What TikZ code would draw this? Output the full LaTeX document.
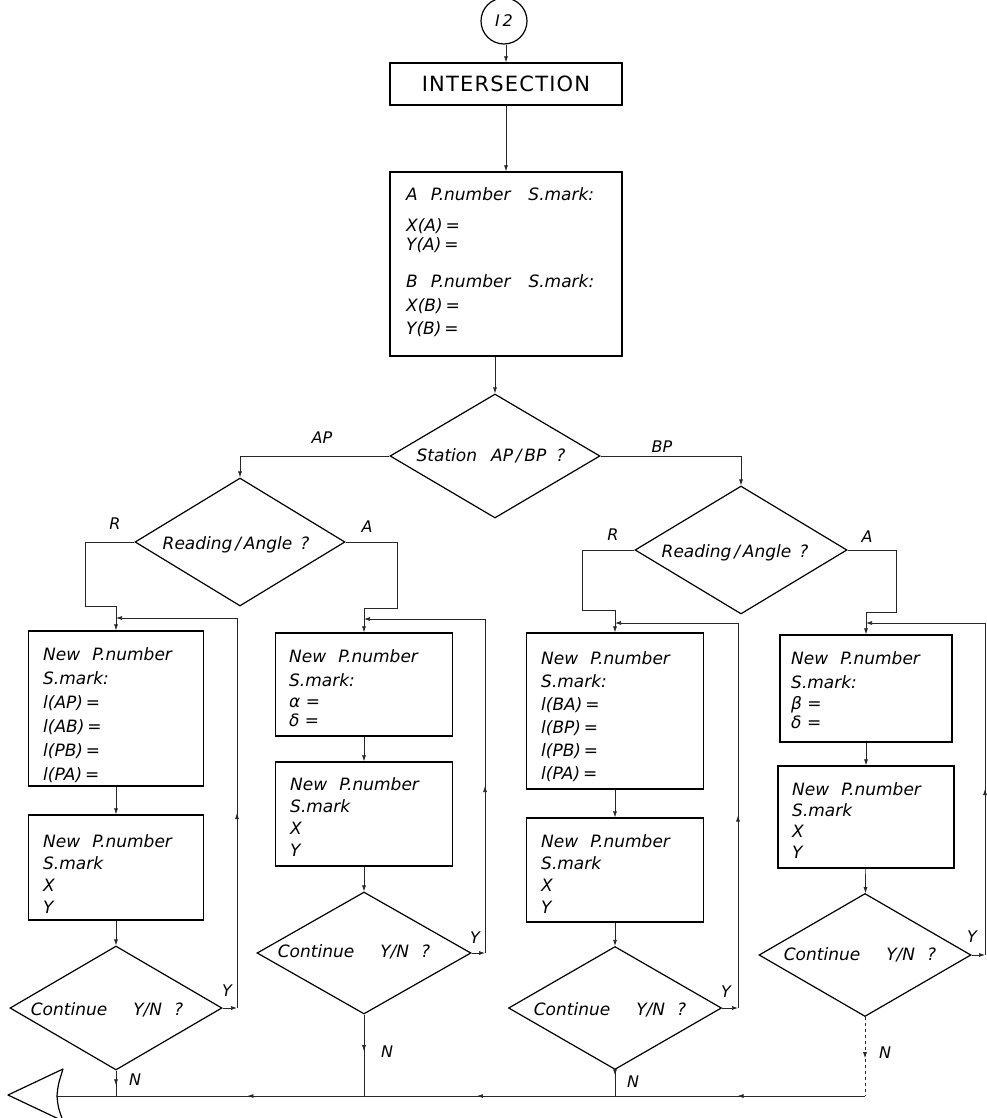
\documentclass[tikz,border=0pt]{standalone}
\usepackage{fontspec}
\setmainfont{DejaVu Sans}
\newfontfamily\lett[ItalicFont={DejaVu Sans Oblique}]{DejaVu Sans}
\usetikzlibrary{shapes.geometric,arrows.meta,decorations.markings}

\tikzset{
  box/.style={draw, line width=1.3pt, inner sep=0pt},
  dia/.style={draw, diamond, line width=1.2pt, inner sep=0pt},
  term/.style={draw, circle, line width=1.2pt, inner sep=0pt, minimum size=46pt,
    font=\lett\itshape\fontsize{16}{18}\selectfont},
  txt/.style={inner sep=0pt, align=left, anchor=north west,
    font=\lett\itshape\fontsize{17}{24}\selectfont},
  dtxt/.style={inner sep=0pt, font=\lett\itshape\fontsize{17}{20}\selectfont},
  lbl/.style={inner sep=0pt, font=\lett\itshape\fontsize{16}{18}\selectfont},
  link/.style={line width=0.7pt, draw=black!85},
  tip/.style={-{Latex[length=6pt,width=4pt]}},
  markat/.style={postaction={decorate, decoration={markings,
    mark=at position #1 with {\arrow{Latex[length=6pt,width=4pt]}}}}},
}

\begin{document}
\begin{tikzpicture}[x=1pt,y=-1pt]
\fill[white] (0,0) rectangle (986,1118);
\useasboundingbox (0,0) rectangle (986,1118);

% head of the chart
\node[term] (start) at (504,21) {I\,2};
\node[box, minimum width=232, minimum height=42] (title) at (506,84)
  {\lett\fontsize{21}{26}\selectfont I\kern1.2pt N\kern1.2pt T\kern1.2pt E\kern1.2pt R\kern1.2pt S\kern1.2pt E\kern1.2pt C\kern1.2pt T\kern1.2pt I\kern1.2pt O\kern1.2pt N};
\node[box, minimum width=232, minimum height=184] (input) at (506,264) {};
\node[txt, font=\lett\itshape\fontsize{17}{20}\selectfont] (inputT) at (406,187)
  {A\hspace{13pt}P.number\hspace{18pt}S.mark:\\[11pt]
   X(A)\,=\\[-1pt] Y(A)\,=\\[17pt]
   B\hspace{13pt}P.number\hspace{18pt}S.mark:\\[4pt]
   X(B)\,=\\[3pt] Y(B)\,=};

% decisions
\node[dia, minimum width=210, minimum height=124] (st) at (495,456) {};
\node[dtxt] (stT) at (491,456) {Station\hspace{14pt}AP\,/\,BP\hspace{10pt}?};
\node[dia, minimum width=210, minimum height=128] (ra) at (240,542) {};
\node[dtxt] (raT) at (236,545) {Reading\,/\,Angle\hspace{8pt}?};
\node[dia, minimum width=212, minimum height=128] (rb) at (741,550) {};
\node[dtxt] (rbT) at (735,553) {Reading\,/\,Angle\hspace{8pt}?};

% column 1: station A, readings
\node[box, minimum width=175, minimum height=155] (b1a) at (116,708.5) {};
\node[txt] (b1aT) at (43,647)
  {New\hspace{12pt}P.number\\ S.mark:\\ l(AP)\,=\\ l(AB)\,=\\ l(PB)\,=\\ l(PA)\,=};
\node[box, minimum width=175, minimum height=105] (b1b) at (116,867.5) {};
\node[txt] (b1bT) at (43,834)
  {New\hspace{12pt}P.number\\[-2pt] S.mark\\[-2pt] X\\[-2pt] Y};
\node[dia, minimum width=212, minimum height=124] (c1) at (116,1008) {};
\node[dtxt] (c1T) at (107,1010) {Continue\hspace{26pt}Y/N\hspace{12pt}?};

% column 2: station A, angles
\node[box, minimum width=177, minimum height=103] (b2a) at (364,684.5) {};
\node[txt] (b2aT) at (289,649)
  {New\hspace{12pt}P.number\\ S.mark:\\[-3pt] α =\\[-5pt] δ =};
\node[box, minimum width=177, minimum height=104] (b2b) at (364,814) {};
\node[txt] (b2bT) at (290,777)
  {New\hspace{12pt}P.number\\[-2pt] S.mark\\[-2pt] X\\[-2pt] Y};
\node[dia, minimum width=214, minimum height=122] (c2) at (364,953) {};
\node[dtxt] (c2T) at (354,952) {Continue\hspace{26pt}Y/N\hspace{12pt}?};

% column 3: station B, readings
\node[box, minimum width=177, minimum height=156] (b3a) at (615,711) {};
\node[txt] (b3aT) at (541,651)
  {New\hspace{12pt}P.number\\[-1pt] S.mark:\\[-1pt] l(BA)\,=\\[-1pt] l(BP)\,=\\[-1pt] l(PB)\,=\\[-1pt] l(PA)\,=};
\node[box, minimum width=177, minimum height=104] (b3b) at (615,870) {};
\node[txt] (b3bT) at (541,834)
  {New\hspace{12pt}P.number\\[-2pt] S.mark\\[-2pt] X\\[-2pt] Y};
\node[dia, minimum width=213, minimum height=123] (c3) at (615,1008) {};
\node[dtxt] (c3T) at (610,1010) {Continue\hspace{26pt}Y/N\hspace{12pt}?};

% column 4: station B, angles
\node[box, minimum width=172, minimum height=107] (b4a) at (866,688.5) {};
\node[txt] (b4aT) at (791,651)
  {New\hspace{12pt}P.number\\ S.mark:\\[-3pt] β =\\[-5pt] δ =};
\node[box, minimum width=176, minimum height=102] (b4b) at (866,817) {};
\node[txt] (b4bT) at (792,782)
  {New\hspace{12pt}P.number\\[-3pt] S.mark\\[-3pt] X\\[-3pt] Y};
\node[dia, minimum width=212, minimum height=123] (c4) at (865,955) {};
\node[dtxt] (c4T) at (860,955) {Continue\hspace{26pt}Y/N\hspace{12pt}?};

% junctions and the common exit line
\coordinate (j1) at (116,618);
\coordinate (j2) at (364,619);
\coordinate (j3) at (615,623);
\coordinate (j4) at (866,623);
\coordinate (bus1) at (116,1096);
\coordinate (bus2) at (364,1096);
\coordinate (bus3) at (615,1096);
\coordinate (bus4) at (865,1096);
\coordinate (exit) at (57,1096);

% main flow
\draw[link,tip] (start.south -| title.north) -- (title.north);
\draw[link,tip] (title.south) -- (input.north);
\draw[link,tip] (input.south -| st.north) -- (st.north);
\draw[link,tip] (st.west) -- (st.west -| ra.north) -- (ra.north);
\draw[link,tip] (st.east) -- (st.east -| rb.north) -- (rb.north);

% branches into the input boxes
\draw[link,tip] (ra.west) -- (85,542) -- (85,606) -- (116,606) -- (b1a.north);
\draw[link,tip] (ra.east) -- (397,542) -- (397,608) -- (364,608) -- (b2a.north);
\draw[link,tip] (rb.west) -- (582,550) -- (582,610) -- (615,610) -- (b3a.north);
\draw[link,tip] (rb.east) -- (896,550) -- (896,612) -- (866,612) -- (b4a.north);

% down each column
\draw[link,tip] (b1a) -- (b1b);
\draw[link,tip] (b1b) -- (c1);
\draw[link,tip] (b2a) -- (b2b);
\draw[link,tip] (b2b) -- (c2);
\draw[link,tip] (b3a) -- (b3b);
\draw[link,tip] (b3b) -- (c3);
\draw[link,tip] (b4a) -- (b4b);
\draw[link,tip] (b4b) -- (c4);

% "Y" loops back to the input boxes
\draw[link,tip] (c1.east) -- (237,1008);
\draw[link,markat=0.5] (237,1008) -- (237,618);
\draw[link,tip] (237,618) -- (j1);
\draw[link,tip] (c2.east) -- (485,953);
\draw[link,markat=0.5] (485,953) -- (485,619);
\draw[link,tip] (485,619) -- (j2);
\draw[link,tip] (c3.east) -- (738,1008);
\draw[link,markat=0.5] (738,1008) -- (738,623);
\draw[link,tip] (738,623) -- (j3);
\draw[link,tip] (c4.east) -- (985,955);
\draw[link,markat=0.5] (985,955) -- (985,623);
\draw[link,tip] (985,623) -- (j4);

% "N" exits
\draw[link,markat=0.58] (c1.south) -- (bus1);
\draw[link,markat=0.45] (c2.south) -- (bus2);
\draw[link,markat=0.2] (c3.south) -- (bus3);
\draw[link,dashed,markat=0.52] (c4.south) -- (bus4);
\draw[link,markat=0.51] (bus4) -- (bus3);
\draw[link,markat=0.55] (bus3) -- (bus2);
\draw[link,markat=0.47] (bus2) -- (bus1);
\draw[link] (bus1) -- (exit);

% off-page connector
\draw[line width=1.2pt, line join=round]
  (exit) .. controls (58,1085) .. (63,1069) -- (8,1095) -- (63,1121)
  .. controls (58,1107) .. (exit);

% branch labels
\node[lbl] (lAP) at (322,438) {AP};
\node[lbl] (lBP) at (662,447) {BP};
\node[lbl] (lR1) at (115,524) {R};
\node[lbl] (lA1) at (367,527) {A};
\node[lbl] (lR2) at (613,535) {R};
\node[lbl] (lA2) at (867,537) {A};
\node[lbl] (lY1) at (227,991) {Y};
\node[lbl] (lY2) at (475,938) {Y};
\node[lbl] (lY3) at (726,992) {Y};
\node[lbl] (lY4) at (972,937) {Y};
\node[lbl] (lN1) at (135,1080) {N};
\node[lbl] (lN2) at (387,1052) {N};
\node[lbl] (lN3) at (633,1082) {N};
\node[lbl] (lN4) at (885,1053) {N};
\end{tikzpicture}
\end{document}
